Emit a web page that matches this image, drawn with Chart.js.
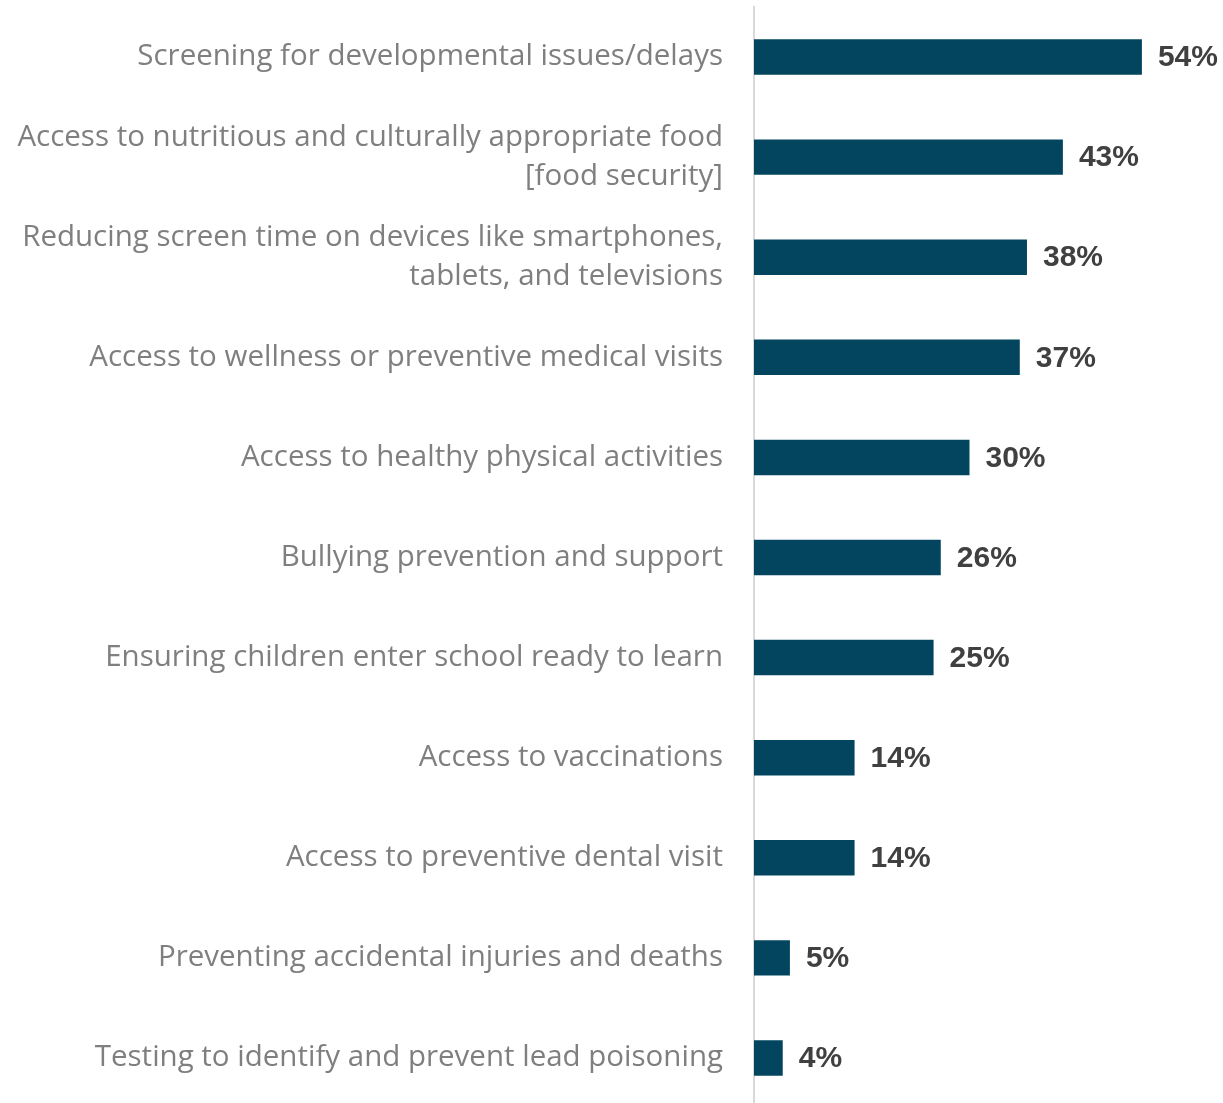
<!DOCTYPE html>
<html>
<head>
<meta charset="utf-8">
<script src="https://cdn.jsdelivr.net/npm/chart.js@4.4.1/dist/chart.umd.min.js"></script>
<style>
    html, body { margin: 0; padding: 0; overflow: hidden; background: #ffffff; }
    #wrap { position: relative; width: 1223px; height: 1110px; }
</style>
</head>
<body>
<div id="wrap"><canvas id="priorityChart"></canvas></div>
<script>
// Share of respondents naming each child health priority
const categories = [
    ['Screening for developmental issues/delays'],
    ['Access to nutritious and culturally appropriate food', '[food security]'],
    ['Reducing screen time on devices like smartphones,', 'tablets, and televisions'],
    ['Access to wellness or preventive medical visits'],
    ['Access to healthy physical activities'],
    ['Bullying prevention and support'],
    ['Ensuring children enter school ready to learn'],
    ['Access to vaccinations'],
    ['Access to preventive dental visit'],
    ['Preventing accidental injuries and deaths'],
    ['Testing to identify and prevent lead poisoning']
];
const percentages = [54, 43, 38, 37, 30, 26, 25, 14, 14, 5, 4];

const barColor = '#03455f';

// writes the percentage just past the end of each bar
const valueLabels = {
    id: 'valueLabels',
    afterDatasetsDraw(chart) {
        const ctx = chart.ctx;
        const meta = chart.getDatasetMeta(0);
        ctx.save();
        ctx.font = 'bold 30px "Liberation Sans", Arial, sans-serif';
        ctx.fillStyle = '#404040';
        ctx.textAlign = 'left';
        ctx.textBaseline = 'middle';
        meta.data.forEach((bar, i) => {
            ctx.fillText(percentages[i] + '%', bar.x + 16, bar.y + 1);
        });
        ctx.restore();
    }
};

new Chart(document.getElementById('priorityChart'), {
    type: 'bar',
    data: {
        labels: categories,
        datasets: [{
            data: percentages,
            backgroundColor: barColor,
            borderWidth: 0,
            barPercentage: 0.354,
            categoryPercentage: 1
        }]
    },
    options: {
        indexAxis: 'y',
        responsive: true,
        maintainAspectRatio: false,
        animation: false,
        layout: { padding: { top: 7, right: 38, bottom: 2, left: 0 } },
        plugins: {
            legend: { display: false },
            tooltip: { enabled: false }
        },
        scales: {
            x: {
                display: false,
                min: 0,
                max: 60
            },
            y: {
                grid: { display: false, drawTicks: false },
                border: { display: true, color: '#d9d9d9', width: 2 },
                ticks: {
                    color: '#7f7f7f',
                    padding: 31,
                    autoSkip: false,
                    font: { family: '"Open Sans", "Noto Sans", sans-serif', size: 29.5, lineHeight: 1.33 }
                },
                afterFit(scale) {
                    // fixed left column; no extra room for the end labels
                    scale.width = 754;
                    scale.paddingTop = 0;
                    scale.paddingBottom = 0;
                }
            }
        }
    },
    plugins: [valueLabels]
});
</script>
</body>
</html>
